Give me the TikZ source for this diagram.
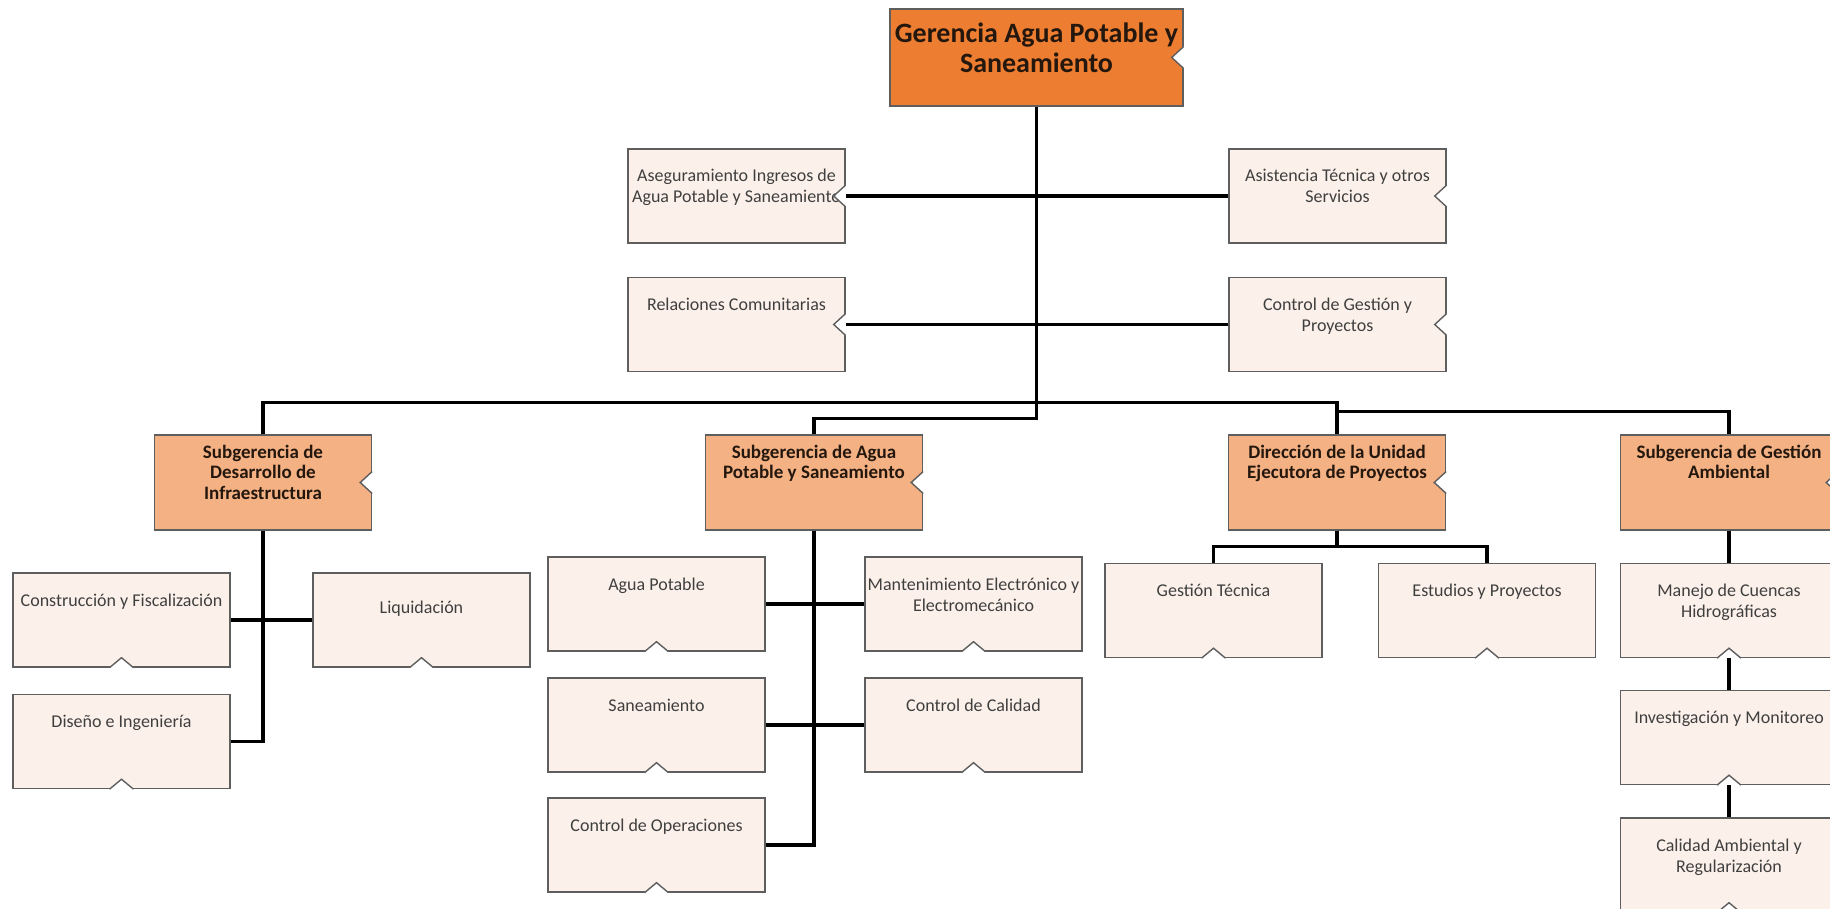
\documentclass[tikz,border=0pt]{standalone}
\usepackage{fontspec}
\setmainfont{Carlito}
\usetikzlibrary{positioning}
\definecolor{gerfill}{HTML}{ED7D31}
\definecolor{subfill}{HTML}{F4B183}
\definecolor{unitfill}{HTML}{FCF1EA}
\definecolor{boxline}{HTML}{5E5E5E}
\definecolor{txtdark}{HTML}{24170E}
\definecolor{txtgray}{HTML}{3F3F3F}
\tikzset{
  box/.style={rectangle, draw=boxline, line width=1.4pt, align=flush center, minimum width=217pt, text width=217pt, inner xsep=0pt},
  gerbox/.style={box, fill=gerfill, minimum width=293pt, text width=293pt, inner ysep=15pt, text height=19pt, text depth=48pt, text=txtdark, font=\bfseries\fontsize{28}{30}\selectfont},
  subbox/.style={box, fill=subfill, inner ysep=9pt, text height=14pt, text depth=63pt, text=txtdark, font=\bfseries\fontsize{19}{20.5}\selectfont},
  unitbox/.style={box, fill=unitfill, inner ysep=20pt, text height=13pt, text depth=41pt, text=txtgray, font=\fontsize{18}{21}\selectfont},
  link/.style={draw=black, line width=3.2pt, line join=miter},
  notch/.style={draw=boxline, line width=1.4pt},
}
\begin{document}
\begin{tikzpicture}[x=1pt, y=1pt, on grid]
  \useasboundingbox (0,0) rectangle (1830,-909);
  \clip (0,0) rectangle (1830,-909);
  \node (ger) [gerbox] at (1036.5,-57.5) {Gerencia Agua Potable y\\Saneamiento};
  \node (aseg) [unitbox, below left=138.5pt and 300pt of ger] {Aseguramiento Ingresos de\\Agua Potable y Saneamiento};
  \node (asis) [unitbox, right=601pt of aseg] {Asistencia Técnica y otros\\Servicios};
  \node (rel) [unitbox, below=128.5pt of aseg] {Relaciones Comunitarias};
  \node (ctrl) [unitbox, below=128.5pt of asis] {Control de Gestión y\\Proyectos};
  \node (subdes) [subbox, below left=425pt and 773.5pt of ger] {Subgerencia de\\Desarrollo de\\Infraestructura};
  \node (subagua) [subbox, right=551pt of subdes] {Subgerencia de Agua\\Potable y Saneamiento};
  \node (dir) [subbox, right=523pt of subagua] {Dirección de la Unidad\\Ejecutora de Proyectos};
  \node (subamb) [subbox, right=392pt of dir] {Subgerencia de Gestión\\Ambiental};
  \node (const) [unitbox, below left=137.5pt and 141.5pt of subdes] {Construcción y Fiscalización};
  \node (liq) [unitbox, right=300pt of const, text height=20pt, text depth=34pt] {Liquidación};
  \node (dis) [unitbox, below=121.5pt of const] {Diseño e Ingeniería};
  \node (agua) [unitbox, below left=121.5pt and 157.5pt of subagua] {Agua Potable};
  \node (mant) [unitbox, right=317pt of agua] {\mbox{Mantenimiento Electrónico y}\\Electromecánico};
  \node (san) [unitbox, below=121pt of agua] {Saneamiento};
  \node (cal) [unitbox, below=121pt of mant] {Control de Calidad};
  \node (ope) [unitbox, below=120pt of san] {Control de Operaciones};
  \node (gest) [unitbox, below left=128pt and 123.5pt of dir] {Gestión Técnica};
  \node (est) [unitbox, right=273.5pt of gest] {Estudios y Proyectos};
  \node (man) [unitbox, below=128pt of subamb] {Manejo de Cuencas\\Hidrográficas};
  \node (inv) [unitbox, below=127pt of man] {Investigación y Monitoreo};
  \node (calamb) [unitbox, below=127.5pt of inv] {Calidad Ambiental y\\Regularización};
  \foreach \n in {ger,aseg,asis,rel,ctrl,subdes,subagua,dir,subamb}
  {
    \fill[white] ([yshift=11pt]\n.east) -- ++(-12,-11) -- ++(12,-11) -- ++(1,0) -- ++(0,22) -- cycle;
    \draw[notch] ([yshift=11pt]\n.east) -- ++(-12,-11) -- ++(12,-11);
  }
  \foreach \n in {const,liq,dis,agua,mant,san,cal,ope,gest,est,man,inv,calamb}
  {
    \fill[white] ([xshift=-12pt]\n.south) -- ++(12,10) -- ++(12,-10) -- ++(0,-1) -- ++(-24,0) -- cycle;
    \draw[notch] ([xshift=-12pt]\n.south) -- ++(12,10) -- ++(12,-10);
  }
  \draw[link] (ger.south) -- ++(0,-312) -| (subagua.north);
  \draw[link] (aseg.east) -- (aseg.east -| ger.south);
  \draw[link] (asis.west) -- (asis.west -| ger.south);
  \draw[link] (rel.east) -- (rel.east -| ger.south);
  \draw[link] (ctrl.west) -- (ctrl.west -| ger.south);
  \draw[link] (subdes.north) -- ++(0,32) -| (dir.north);
  \draw[link] (dir.north) ++(0,23) -| (subamb.north);
  \draw[link] (const.east) -- (liq.west);
  \draw[link] (subdes.south) |- (dis.east);
  \draw[link] (agua.east) -- (mant.west);
  \draw[link] (san.east) -- (cal.west);
  \draw[link] (subagua.south) |- (ope.east);
  \draw[link] (dir.south) -- ++(0,-16) coordinate (dirjoin);
  \draw[link] (gest.north) |- (dirjoin) -| (est.north);
  \draw[link] (subamb.south) -- (man.north);
  \draw[link] (man.south) -- (inv.north);
  \draw[link] (inv.south) -- (calamb.north);
\end{tikzpicture}
\end{document}
